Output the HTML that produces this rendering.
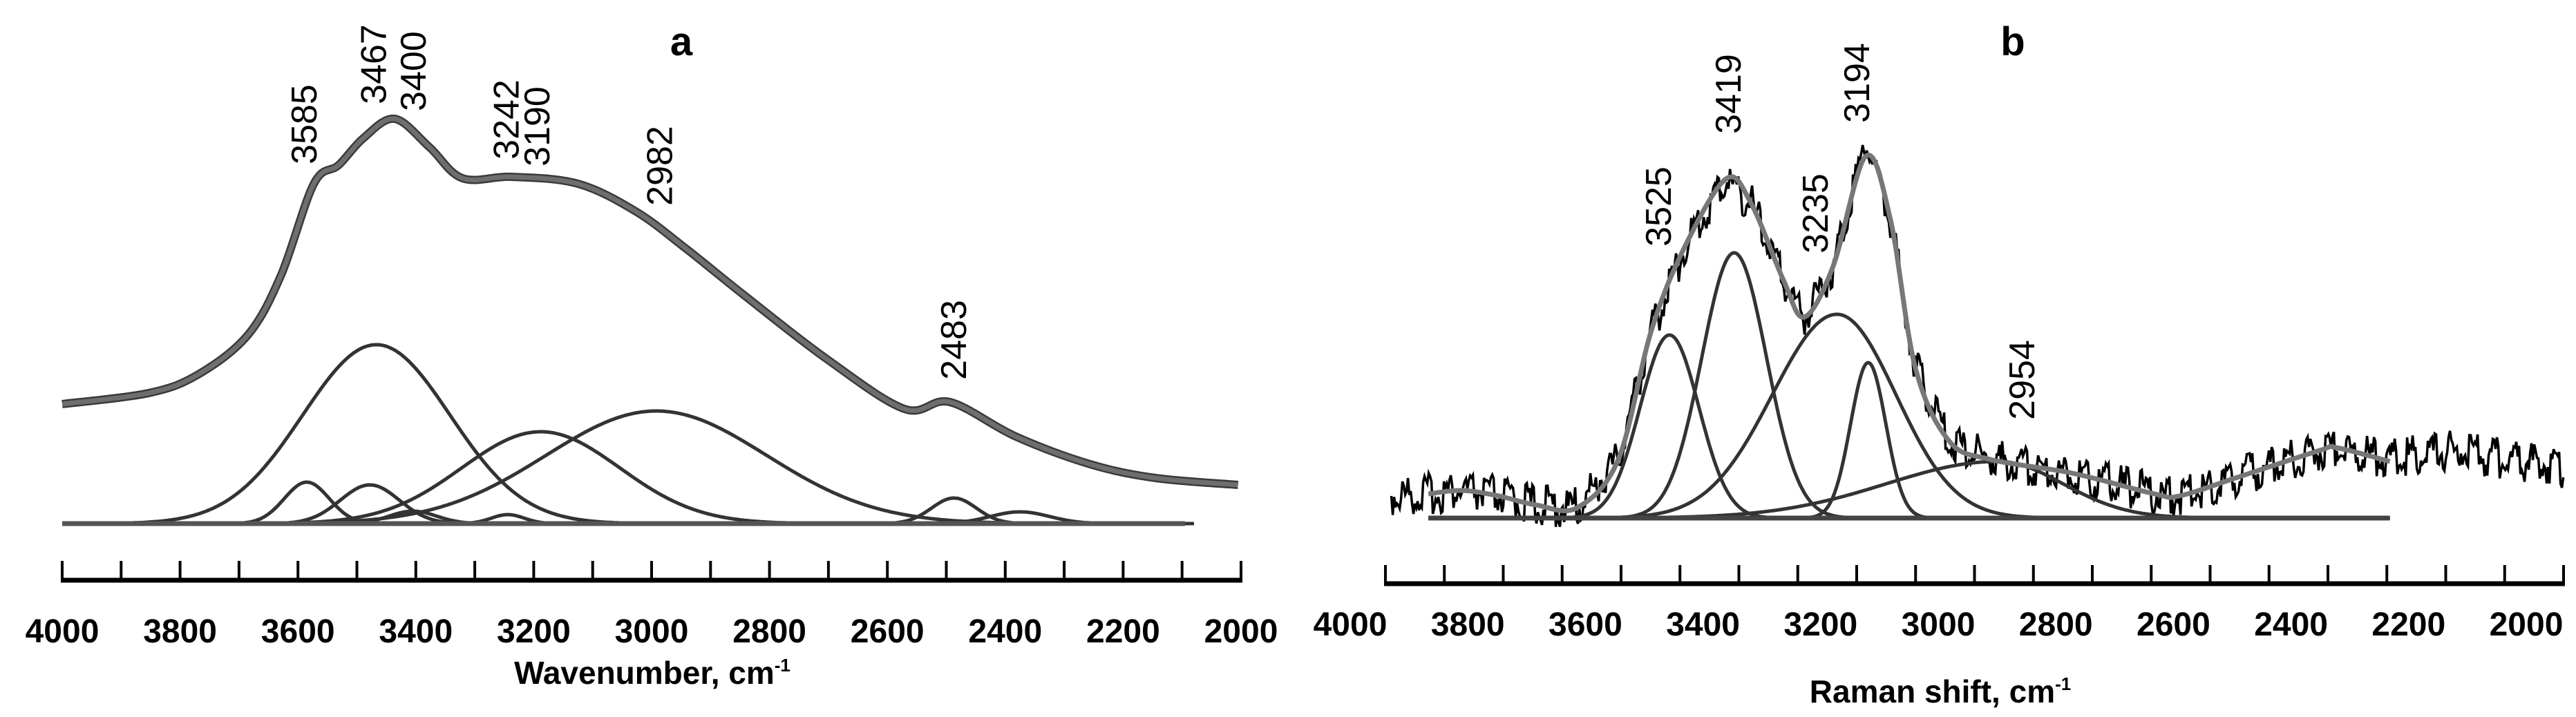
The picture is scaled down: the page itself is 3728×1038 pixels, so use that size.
<!DOCTYPE html>
<html><head><meta charset="utf-8"><style>
html,body{margin:0;padding:0;background:#fff;}
svg{display:block;}
text{font-family:"Liberation Sans",Arial,sans-serif;fill:#000;}
</style></head><body>
<svg id="chart" width="3728" height="1038" viewBox="0 0 3728 1038" xmlns="http://www.w3.org/2000/svg"></svg>
<script>
// ---------- Panel a (IR) data ----------
const aWn = [4000,3853,3769,3685,3629,3573,3531,3489,3436,3377,3321,3237,3125,3027,2943,2845,2704,2571,2494,2382,2256,2145,2005];
const aSpectrum = [0.346,0.378,0.432,0.546,0.718,0.984,1.038,1.116,1.172,1.09,1.0,1.004,0.984,0.904,0.798,0.664,0.478,0.332,0.352,0.252,0.172,0.132,0.112];
const aCenters = [3467,3585,3478,3405,3244,3188,2992,2487,2375];
const aHeights = [0.518,0.12,0.112,0.036,0.026,0.266,0.326,0.074,0.034];
const aWidths = [125,38,50,40,28,134,187,38,50];
const aPeakLabels = ["3585","3467","3400","3242","3190","2982","2483"];
const aPeakLabelWn = [3585,3467,3400,3242,3190,2982,2483];
const aPeakLabelY = [180,93,103,173,183,240,492];
const aTicks = [4000,3800,3600,3400,3200,3000,2800,2600,2400,2200,2000];

// ---------- Panel b (Raman) data ----------
const bWn = [3930,3867,3811,3750,3684,3614,3544,3488,3432,3361,3319,3263,3228,3179,3123,3081,3039,2982,2912,2772,2632,2590,2491,2351,2323,2232,2140,2028,1937];
const bRaw = [0.064,0.07,0.08,0.065,0.038,0.03,0.17,0.542,0.782,0.982,0.914,0.688,0.582,0.728,1.1,0.862,0.436,0.224,0.17,0.13,0.07,0.064,0.118,0.196,0.204,0.17,0.196,0.17,0.144];
const bFitWn = [3867,3811,3750,3684,3614,3544,3488,3432,3361,3319,3263,3228,3179,3123,3081,3039,2982,2912,2772,2632,2590,2491,2351,2323,2232];
const bFit = [0.07,0.08,0.065,0.038,0.03,0.17,0.542,0.782,0.982,0.914,0.688,0.582,0.728,1.048,0.862,0.436,0.224,0.17,0.13,0.07,0.064,0.118,0.196,0.204,0.164];
const bCenters = [3457,3347,3172,3119,2898];
const bHeights = [0.53,0.768,0.59,0.45,0.164];
const bWidthsL = [50,55,110,30,190];
const bWidthsR = [50,55,100,30,110];
const bPeakLabels = ["3525","3419","3235","3194","2954"];
const bPeakLabelX = [2402,2503,2629,2689,2928];
const bPeakLabelY = [299,136,309,120,550];
const bTicks = [4000,3800,3600,3400,3200,3000,2800,2600,2400,2200,2000];

const svg = document.getElementById('chart');
const NS = 'http://www.w3.org/2000/svg';
function mk(tag, attrs, parent){
  const e = document.createElementNS(NS, tag);
  for (const k in attrs) e.setAttribute(k, attrs[k]);
  (parent||svg).appendChild(e);
  return e;
}
function smoothPath(pts){
  let d = 'M' + pts[0][0].toFixed(1) + ',' + pts[0][1].toFixed(1);
  for (let i=0;i<pts.length-1;i++){
    const p0=pts[Math.max(0,i-1)], p1=pts[i], p2=pts[i+1], p3=pts[Math.min(pts.length-1,i+2)];
    const c1=[p1[0]+(p2[0]-p0[0])/6, p1[1]+(p2[1]-p0[1])/6];
    const c2=[p2[0]-(p3[0]-p1[0])/6, p2[1]-(p3[1]-p1[1])/6];
    d += ' C'+c1[0].toFixed(1)+','+c1[1].toFixed(1)+' '+c2[0].toFixed(1)+','+c2[1].toFixed(1)+' '+p2[0].toFixed(1)+','+p2[1].toFixed(1);
  }
  return d;
}

// ===== Panel a =====
const ga = mk('g', {});


const axA = wn => 90 + (4000 - wn) / 2000 * 1706;
const ayA = v => 758 - v * 500;

for (let i=0;i<aCenters.length;i++){
  const pts=[];
  for (let w=3900; w>=2080; w-=5){
    const v = aHeights[i]*Math.exp(-0.5*Math.pow((w-aCenters[i])/aWidths[i],2));
    pts.push([axA(w), ayA(v)]);
  }
  const p = mk('path', {d: smoothPath(pts), fill:'none', stroke:'#333', 'stroke-width':5}, ga);
  
  
}
const blA = mk('line', {x1:axA(4000), x2:axA(2095), y1:ayA(0), y2:ayA(0), stroke:'#555', 'stroke-width':7}, ga);


const specPts = aWn.map((w,i)=>[axA(w), ayA(aSpectrum[i])]);
const s1 = mk('path', {d: smoothPath(specPts), fill:'none', stroke:'#3a3a3a', 'stroke-width':12, 'stroke-linejoin':'round'}, ga);


const s2 = mk('path', {d: smoothPath(specPts), fill:'none', stroke:'#6e6e6e', 'stroke-width':7, 'stroke-linejoin':'round'}, ga);



const axLineA = mk('line', {x1:88, x2:1798, y1:840, y2:840, stroke:'#000', 'stroke-width':7}, ga);


for (let w=4000; w>=2000; w-=100){
  const t = mk('line', {x1:axA(w), x2:axA(w), y1:812, y2:840, stroke:'#000', 'stroke-width':4}, ga);
  
  
}
aTicks.forEach(w=>{
  const t = mk('text', {x:axA(w), y:930, 'text-anchor':'middle', 'font-size':48, 'font-weight':'bold'}, ga);
  t.textContent = w;
  
  
});
const titleA = mk('text', {x:944, y:990, 'text-anchor':'middle', 'font-size':46, 'font-weight':'bold'}, ga);
titleA.innerHTML = 'Wavenumber, cm<tspan dy="-18" font-size="26">-1</tspan>';


const letA = mk('text', {x:986, y:80, 'text-anchor':'middle', 'font-size':58, 'font-weight':'bold'}, ga);
letA.textContent = 'a';


aPeakLabels.forEach((s,i)=>{
  const x = axA(aPeakLabelWn[i]) + 14, y = aPeakLabelY[i];
  const t = mk('text', {x:x, y:y, 'text-anchor':'middle', 'font-size':52, transform:'rotate(-90 '+x+' '+y+')'}, ga);
  t.textContent = s;
  
  
});

// ===== Panel b =====
const gb = mk('g', {});


const axB = wn => 1954 + (4000 - wn) / 2000 * 1702;
const ayB = v => 750 - v * 500;

// raw noisy spectrum (deterministic jitter texture around observed envelope)
const rawEnv = bWn.map((w,i)=>[axB(w), ayB(bRaw[i])]);
function envY(x){
  for (let i=0;i<rawEnv.length-1;i++){
    if (x>=rawEnv[i][0] && x<=rawEnv[i+1][0]){
      const t=(x-rawEnv[i][0])/(rawEnv[i+1][0]-rawEnv[i][0]);
      return rawEnv[i][1]+t*(rawEnv[i+1][1]-rawEnv[i][1]);
    }
  }
  return rawEnv[rawEnv.length-1][1];
}
let rd = '';
let k = 0;
for (let x=rawEnv[0][0]; x<=rawEnv[rawEnv.length-1][0]; x+=2){
  const j = ((Math.sin(k*12.9898)*43758.5453)%1) * 30;
  rd += (k? ' L':'M') + x.toFixed(1) + ',' + (envY(x)+j).toFixed(1);
  k++;
}
const raw = mk('path', {d: rd, fill:'none', stroke:'#000', 'stroke-width':3.5}, gb);



for (let i=0;i<bCenters.length;i++){
  const pts=[];
  for (let w=3867; w>=2232; w-=5){
    const s = w>bCenters[i] ? bWidthsL[i] : bWidthsR[i];
    const v = bHeights[i]*Math.exp(-0.5*Math.pow((w-bCenters[i])/s,2));
    pts.push([axB(w), ayB(v)]);
  }
  const p = mk('path', {d: smoothPath(pts), fill:'none', stroke:'#333', 'stroke-width':5}, gb);
  
  
}
const blB = mk('line', {x1:axB(3867), x2:axB(2232), y1:ayB(0), y2:ayB(0), stroke:'#444', 'stroke-width':7}, gb);


const fitPts = bFitWn.map((w,i)=>[axB(w), ayB(bFit[i])]);
const fit = mk('path', {d: smoothPath(fitPts), fill:'none', stroke:'#777', 'stroke-width':7, 'stroke-linejoin':'round'}, gb);



const axLineB = mk('line', {x1:2003, x2:3712, y1:845, y2:845, stroke:'#000', 'stroke-width':7}, gb);


for (let i=0;i<=20;i++){
  const x = 2005 + i*85.25;
  const t = mk('line', {x1:x, x2:x, y1:818, y2:845, stroke:'#000', 'stroke-width':4}, gb);
  
  
}
bTicks.forEach(w=>{
  const t = mk('text', {x:axB(w), y:920, 'text-anchor':'middle', 'font-size':48, 'font-weight':'bold'}, gb);
  t.textContent = w;
  
  
});
const titleB = mk('text', {x:2808, y:1017, 'text-anchor':'middle', 'font-size':46, 'font-weight':'bold'}, gb);
titleB.innerHTML = 'Raman shift, cm<tspan dy="-18" font-size="26">-1</tspan>';


const letB = mk('text', {x:2913, y:80, 'text-anchor':'middle', 'font-size':58, 'font-weight':'bold'}, gb);
letB.textContent = 'b';


bPeakLabels.forEach((s,i)=>{
  const x = bPeakLabelX[i] + 16, y = bPeakLabelY[i];
  const t = mk('text', {x:x, y:y, 'text-anchor':'middle', 'font-size':52, transform:'rotate(-90 '+x+' '+y+')'}, gb);
  t.textContent = s;
  
  
});
</script>
</body></html>
